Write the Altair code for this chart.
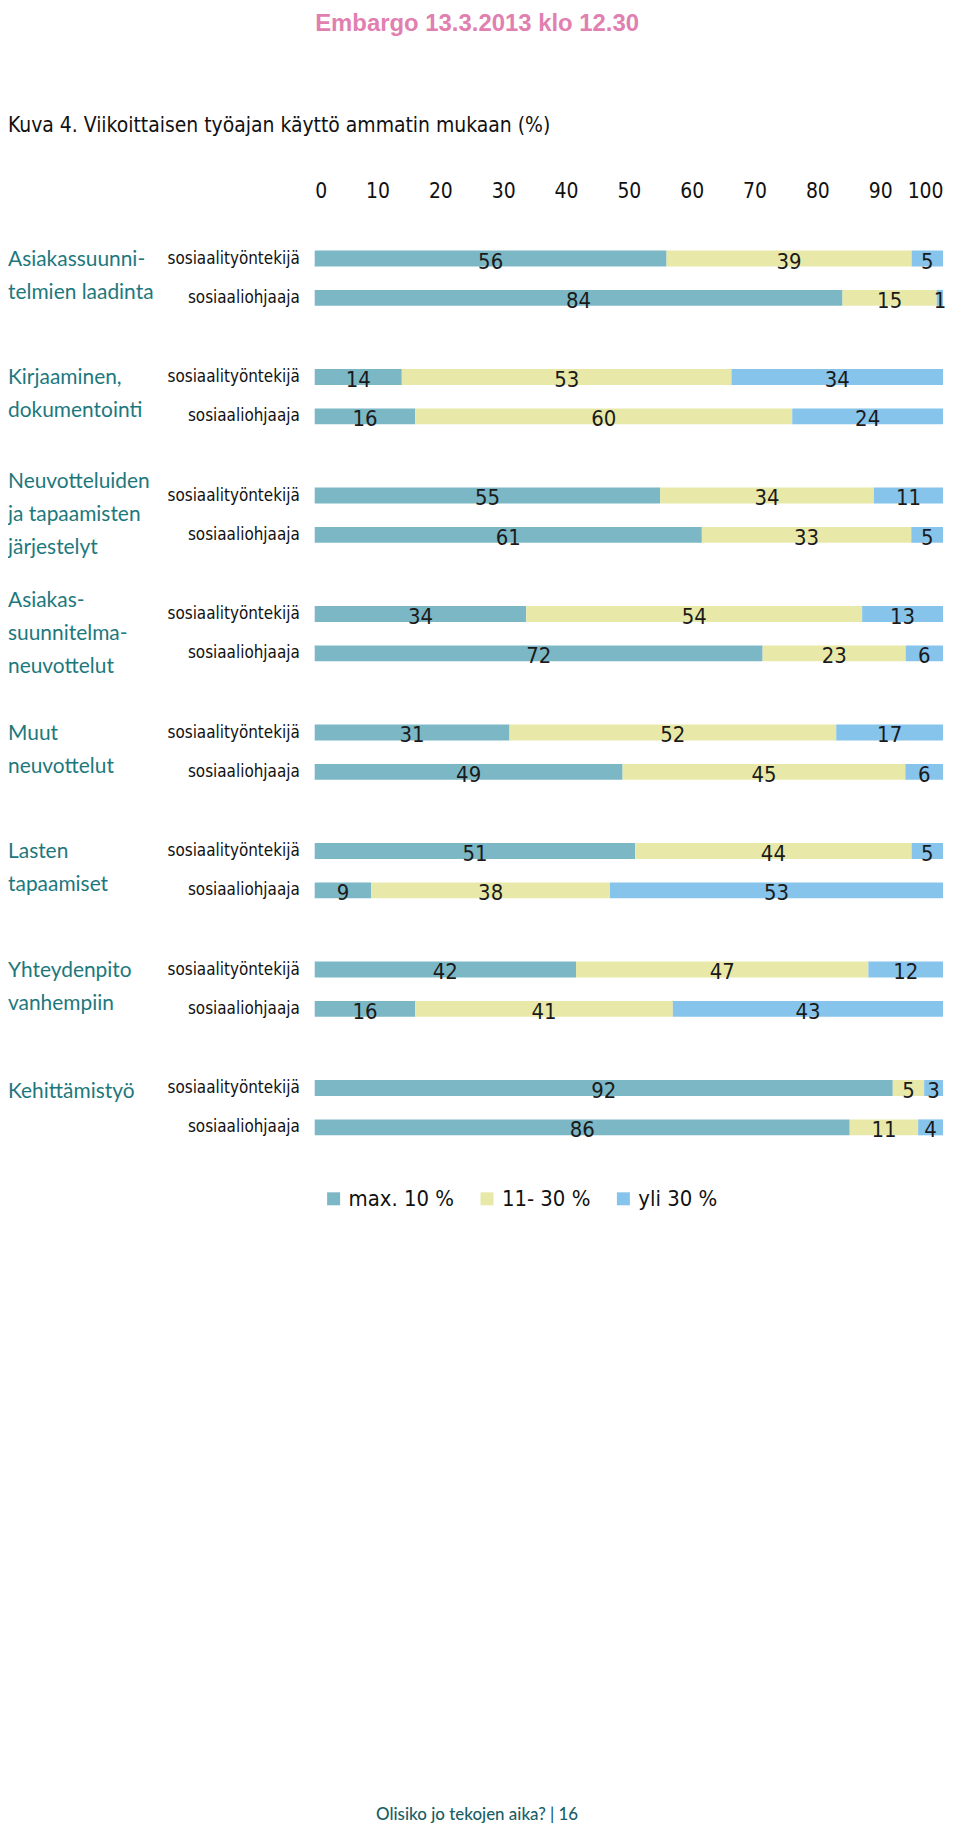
import altair as alt
import pandas as pd

groups = [
    "Asiakassuunni-|telmien laadinta",
    "Kirjaaminen,|dokumentointi",
    "Neuvotteluiden|ja tapaamisten|järjestelyt",
    "Asiakas-|suunnitelma-|neuvottelut",
    "Muut|neuvottelut",
    "Lasten|tapaamiset",
    "Yhteydenpito|vanhempiin",
    "Kehittämistyö",
]
roles = ["sosiaalityöntekijä", "sosiaaliohjaaja"]
cats = ["max. 10 %", "11- 30 %", "yli 30 %"]
colors = ["#7bb7c5", "#e8e9a9", "#86c4ec"]

sty_values = [[56, 39, 5], [14, 53, 34], [55, 34, 11], [34, 54, 13],
              [31, 52, 17], [51, 44, 5], [42, 47, 12], [92, 5, 3]]
soh_values = [[84, 15, 1], [16, 60, 24], [61, 33, 5], [72, 23, 6],
              [49, 45, 6], [9, 38, 53], [16, 41, 43], [86, 11, 4]]

title_text = "Kuva 4.  Viikoittaisen työajan käyttö ammatin mukaan (%)"
embargo_text = "Embargo 13.3.2013 klo 12.30"
footer_text = "Olisiko jo tekojen aika? | 16"

rows = []
for g, a, b in zip(groups, sty_values, soh_values):
    for role, vals in zip(roles, [a, b]):
        total = sum(vals)
        cum = 0
        for i, (c, v) in enumerate(zip(cats, vals)):
            s = cum / total * 100
            cum += v
            e = cum / total * 100
            rows.append({"group": g, "role": role, "cat": c, "order": i,
                         "value": v, "start": s, "end": e, "mid": (s + e) / 2,
                         "nlines": g.count("|") + 1})
df = pd.DataFrame(rows)

NARROW = "Liberation Sans Narrow, DejaVu Sans Condensed, sans-serif"
HUMAN = "Lato, Open Sans, sans-serif"
PANEL_W = 631
PANEL_H = 79
LINE_H = 33

xaxis = alt.Axis(orient="top", values=list(range(0, 101, 10)), grid=False,
                 domain=False, ticks=False, labelPadding=38, labelFontSize=21,
                 labelFont=NARROW, labelColor="#111111", labelFontWeight="normal")
xscale = alt.Scale(domain=[0, 100], nice=False, zero=True)
yscale = alt.Scale(paddingInner=0.2, paddingOuter=0.1)
yenc = alt.Y("role:N", sort=roles, scale=yscale, axis=None)

bars = alt.Chart().mark_bar(size=16).encode(
    x=alt.X("start:Q", scale=xscale, axis=xaxis, title=None),
    x2="end:Q",
    y=yenc,
    color=alt.Color("cat:N", scale=alt.Scale(domain=cats, range=colors),
                    legend=alt.Legend(title=None, orient="bottom", direction="horizontal",
                                      symbolType="square", symbolSize=170,
                                      labelFontSize=22, labelFont=NARROW,
                                      labelColor="#111111", columnPadding=22,
                                      offset=33, padding=8, symbolStrokeWidth=0)),
)
texts = alt.Chart().mark_text(fontSize=22, font=NARROW, color="#1a1a1a",
                              baseline="middle", dy=3).encode(
    x=alt.X("mid:Q", scale=xscale, axis=xaxis, title=None),
    y=yenc,
    text="value:Q",
)
role_labels = alt.Chart().transform_filter(alt.datum.order == 0).mark_text(
    fontSize=17, font=NARROW, color="#111111", align="right", baseline="middle"
).encode(
    x=alt.value(-15),
    y=yenc,
    text="role:N",
)

# first-line position of the group label block, by number of lines
first_line_y = {1: 24, 2: PANEL_H / 2 - LINE_H / 2 - 2, 3: PANEL_H / 2 - LINE_H}


def group_label_layer(n):
    return alt.Chart().transform_filter(
        (alt.datum.order == 0) & (alt.datum.role == roles[0]) & (alt.datum.nlines == n)
    ).mark_text(fontSize=21, font=HUMAN, color="#1d787d", align="left",
                baseline="middle", lineBreak="|", lineHeight=LINE_H).encode(
        x=alt.value(-308),
        y=alt.value(first_line_y[n]),
        text="group:N",
    )


facet = alt.layer(bars, texts, role_labels,
                  group_label_layer(1), group_label_layer(2), group_label_layer(3),
                  data=df).properties(
    width=PANEL_W, height=PANEL_H
).facet(
    row=alt.Row("group:N", sort=groups, title=None,
                header=alt.Header(labels=False, title=None)),
    spacing=40,
    bounds="flush",
).properties(
    title=alt.TitleParams(title_text, anchor="start", fontSize=21, font=NARROW,
                          fontWeight="normal", color="#111111", offset=44)
)

inner = alt.vconcat(facet).resolve_legend(color="independent").properties(
    title=alt.TitleParams(footer_text, orient="bottom", anchor="middle",
                          fontSize=17, font=HUMAN, color="#1b5e66",
                          fontWeight=500, offset=592)
)

chart = alt.vconcat(inner).properties(
    title=alt.TitleParams(embargo_text, anchor="middle", fontSize=24,
                          font="Liberation Sans, Arial, sans-serif",
                          fontWeight="bold", color="#e17fb1", offset=80),
    padding={"left": 0, "top": 0, "right": 5, "bottom": 0},
).configure_view(stroke=None)

chart.save("out.html", embed_options={"renderer": "svg", "actions": False})
